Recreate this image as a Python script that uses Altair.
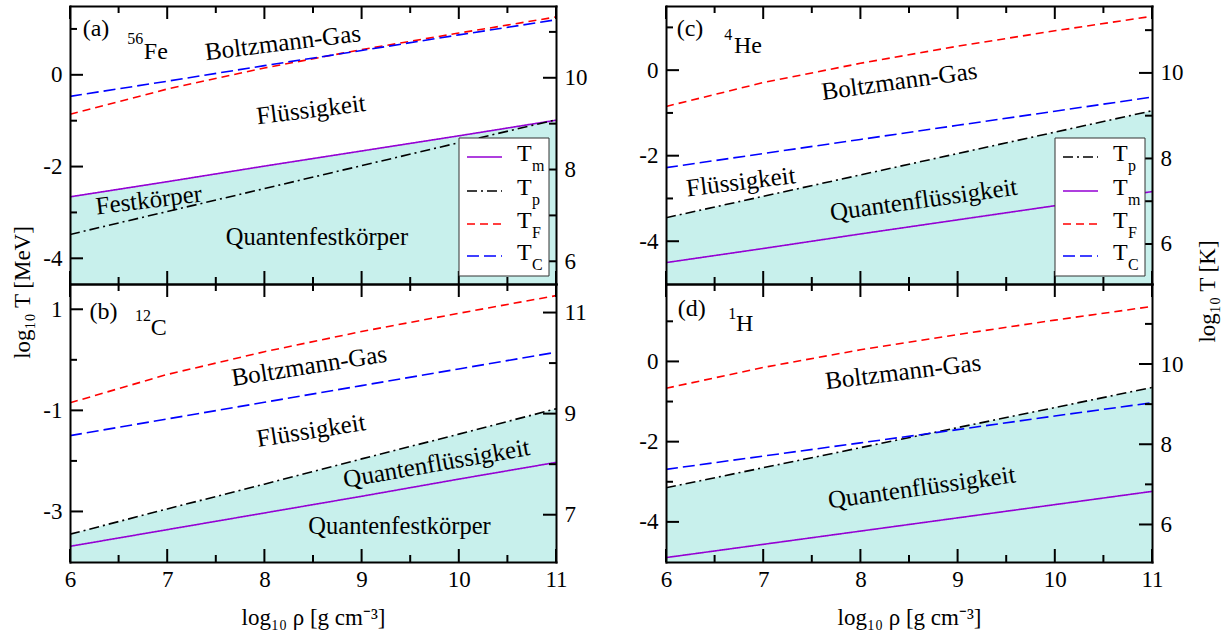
import altair as alt
import pandas as pd

SERIF = "Liberation Serif"
FILL = "#c8f0ec"
K_OFF = 10.0646  # log10(1 MeV / k_B in K)

RHO = [6, 7, 8, 9, 10, 11]
SERIES = ["Tm", "Tp", "TF", "TC"]
COLORS = ["#9400d3", "#000000", "#ff0000", "#0000ff"]
DASHES = [[1, 0], [10, 4, 2, 4], [8, 5], [12, 5]]
SUBS = {"Tm": "m", "Tp": "p", "TF": "F", "TC": "C"}

# (a) 56Fe
FE_TM = [-2.66, -2.33, -1.99, -1.66, -1.33, -0.99]
FE_TP = [-3.48, -2.98, -2.48, -1.98, -1.48, -0.98]
FE_TF = [-0.86, -0.31, 0.15, 0.55, 0.91, 1.26]
FE_TC = [-0.47, -0.14, 0.20, 0.53, 0.87, 1.20]
# (b) 12C
C_TM = [-3.69, -3.36, -3.03, -2.70, -2.36, -2.03]
C_TP = [-3.45, -2.95, -2.46, -1.96, -1.47, -0.97]
C_TF = [-0.85, -0.29, 0.16, 0.56, 0.92, 1.27]
C_TC = [-1.50, -1.17, -0.84, -0.51, -0.18, 0.15]
# (c) 4He
HE_TM = [-4.50, -4.17, -3.83, -3.50, -3.17, -2.84]
HE_TP = [-3.45, -2.95, -2.45, -1.95, -1.45, -0.95]
HE_TF = [-0.85, -0.29, 0.16, 0.56, 0.92, 1.26]
HE_TC = [-2.28, -1.95, -1.62, -1.29, -0.96, -0.63]
# (d) 1H
H_TM = [-4.89, -4.56, -4.23, -3.90, -3.57, -3.24]
H_TP = [-3.15, -2.65, -2.15, -1.65, -1.15, -0.65]
H_TF = [-0.67, -0.15, 0.29, 0.67, 1.03, 1.37]
H_TC = [-2.69, -2.36, -2.03, -1.70, -1.36, -1.03]

X_MAJOR = [6, 7, 8, 9, 10, 11]
X_MINOR = [6.5, 7.5, 8.5, 9.5, 10.5]

X_TITLE = "log\u2081\u2080 \u03c1 [g cm\u207b\u00b3]"
Y_TITLE_L = "log\u2081\u2080 T [MeV]"
Y_TITLE_R = "log\u2081\u2080 T [K]"

PANELS = {
    "a": dict(Tm=FE_TM, Tp=FE_TP, TF=FE_TF, TC=FE_TC, fill="Tm", ydom=[-4.56, 1.5],
              lmaj=[-4, -2, 0], lmin=[-3, -1, 1], rmaj=[6, 8, 10], rmin=[7, 9, 11],
              xlabels=False, legend=["Tm", "Tp", "TF", "TC"],
              notes=[("(a)", 6.13, 1.0, 24, 0, "left"), ("56", 6.59, 0.78, 16, 0, "left"),
                     ("Fe", 6.76, 0.50, 24, 0, "left"),
                     ("Boltzmann-Gas", 8.19, 0.70, 25, 353, "center"),
                     ("Flüssigkeit", 8.48, -0.76, 25, 353, "center"),
                     ("Festkörper", 6.81, -2.73, 25, 353, "center"),
                     ("Quantenfestkörper", 8.54, -3.56, 24.5, 0, "center")]),
    "b": dict(Tm=C_TM, Tp=C_TP, TF=C_TF, TC=C_TC, fill="Tp", ydom=[-4.0, 1.5],
              lmaj=[-3, -1, 1], lmin=[-2, 0], rmaj=[7, 9, 11], rmin=[8, 10],
              xlabels=True, legend=None,
              notes=[("(b)", 6.2, 0.95, 24, 0, "left"), ("12", 6.67, 0.87, 16, 0, "left"),
                     ("C", 6.83, 0.63, 24, 0, "left"),
                     ("Boltzmann-Gas", 8.46, -0.12, 25, 351, "center"),
                     ("Flüssigkeit", 8.48, -1.40, 25, 351, "center"),
                     ("Quantenflüssigkeit", 9.77, -2.05, 25, 350, "center"),
                     ("Quantenfestkörper", 9.39, -3.31, 24.5, 0, "center")]),
    "c": dict(Tm=HE_TM, Tp=HE_TP, TF=HE_TF, TC=HE_TC, fill="Tp", ydom=[-5.0, 1.5],
              lmaj=[-4, -2, 0], lmin=[-3, -1, 1], rmaj=[6, 8, 10], rmin=[7, 9, 11],
              xlabels=False, legend=["Tp", "Tm", "TF", "TC"],
              notes=[("(c)", 6.11, 0.97, 24, 0, "left"), ("4", 6.60, 0.83, 16, 0, "left"),
                     ("He", 6.70, 0.57, 24, 0, "left"),
                     ("Boltzmann-Gas", 8.40, -0.26, 25, 352, "center"),
                     ("Flüssigkeit", 6.77, -2.61, 25, 353, "center"),
                     ("Quantenflüssigkeit", 8.65, -3.03, 25, 352, "center")]),
    "d": dict(Tm=H_TM, Tp=H_TP, TF=H_TF, TC=H_TC, fill="Tp", ydom=[-5.0, 1.93],
              lmaj=[-4, -2, 0], lmin=[-3, -1, 1], rmaj=[6, 8, 10], rmin=[7, 9, 11],
              xlabels=True, legend=None,
              notes=[("(d)", 6.12, 1.31, 24, 0, "left"), ("1", 6.64, 1.18, 16, 0, "left"),
                     ("H", 6.72, 0.94, 24, 0, "left"),
                     ("Boltzmann-Gas", 8.44, -0.26, 25, 353, "center"),
                     ("Quantenflüssigkeit", 8.63, -3.14, 25, 352, "center")]),
}

W, H = 486, 278
MAJ, MIN = 13, 7
LEFT_LBL = "datum.value < 0 ? '-' + abs(datum.value) : '' + datum.value"
RIGHT_LBL = "'' + round(datum.value + %s)" % K_OFF
X0, X1 = 6, 11


def panel(key):
    p = PANELS[key]
    y0, y1 = p["ydom"]
    xs = alt.Scale(domain=[X0, X1], nice=False, zero=False)
    ys = alt.Scale(domain=[y0, y1], nice=False, zero=False)
    cs = alt.Scale(domain=SERIES, range=COLORS)
    ds = alt.Scale(domain=SERIES, range=DASHES)
    rows = [{"rho": x, "T": v, "series": s} for s in SERIES for x, v in zip(RHO, p[s])]
    df = pd.DataFrame(rows)
    X = lambda ax=None: alt.X("rho:Q", scale=xs, axis=ax)
    Y = lambda ax=None: alt.Y("T:Q", scale=ys, axis=ax)

    layers = []
    fill_df = pd.DataFrame({"rho": RHO, "T": p[p["fill"]]})
    layers.append(alt.Chart(fill_df).mark_area(color=FILL, clip=True).encode(
        x=X(), y=Y(), y2=alt.datum(y0)))
    layers.append(alt.Chart(df).mark_line(strokeWidth=1.6, clip=True).encode(
        x=X(), y=Y(),
        color=alt.Color("series:N", scale=cs, legend=None),
        strokeDash=alt.StrokeDash("series:N", scale=ds, legend=None)))

    # inward tick marks: tick values through the scales, tick length converted to data units
    dy = (y1 - y0) / H
    dx = (X1 - X0) / W
    rmaj = [k - K_OFF for k in p["rmaj"]]
    rmin = [k - K_OFF for k in p["rmin"]]
    trows = []
    for vals, ln in ((X_MAJOR, MAJ), (X_MINOR, MIN)):
        for v in vals:
            trows.append({"xa": v, "xb": v, "ya": y0, "yb": y0 + ln * dy})
            trows.append({"xa": v, "xb": v, "ya": y1, "yb": y1 - ln * dy})
    for vals, ln in ((p["lmaj"], MAJ), (p["lmin"], MIN)):
        for v in vals:
            trows.append({"xa": X0, "xb": X0 + ln * dx, "ya": v, "yb": v})
    for vals, ln in ((rmaj, MAJ), (rmin, MIN)):
        for v in vals:
            trows.append({"xa": X1 - ln * dx, "xb": X1, "ya": v, "yb": v})
    layers.append(alt.Chart(pd.DataFrame(trows)).mark_rule(color="black", strokeWidth=2).encode(
        x=alt.X("xa:Q", scale=xs, axis=None), x2="xb:Q",
        y=alt.Y("ya:Q", scale=ys, axis=None), y2="yb:Q"))

    for txt, x, y, fs, ang, al in p["notes"]:
        layers.append(alt.Chart(pd.DataFrame({"rho": [x], "T": [y], "label": [txt]})).mark_text(
            font=SERIF, fontSize=fs, angle=ang, align=al, baseline="middle", color="black").encode(
            x=X(), y=Y(), text="label:N"))
    if p["legend"]:
        one = pd.DataFrame({"k": [0]})
        layers.append(alt.Chart(one).mark_rect(fill="white", stroke="#333333", strokeWidth=1).encode(
            x=alt.value(389), x2=alt.value(479), y=alt.value(132), y2=alt.value(270)))
        for s, yy in zip(p["legend"], [151, 185, 218, 250]):
            layers.append(alt.Chart(pd.DataFrame({"series": [s]})).mark_rule(strokeWidth=1.6).encode(
                x=alt.value(397), x2=alt.value(432), y=alt.value(yy),
                color=alt.Color("series:N", scale=cs, legend=None),
                strokeDash=alt.StrokeDash("series:N", scale=ds, legend=None)))
            layers.append(alt.Chart(one).mark_text(font=SERIF, fontSize=24, align="left",
                                                   baseline="middle", color="black").encode(
                x=alt.value(447), y=alt.value(yy - 3), text=alt.value("T")))
            layers.append(alt.Chart(one).mark_text(font=SERIF, fontSize=16, align="left",
                                                   baseline="middle", color="black").encode(
                x=alt.value(462), y=alt.value(yy + 9), text=alt.value(SUBS[s])))

    ghost = alt.Chart(df).mark_point(opacity=0, size=1)
    frame = dict(grid=False, zindex=1, ticks=False, domain=True, domainWidth=2, domainCap="square",
                 domainColor="black")

    if p["xlabels"]:
        xax = alt.Axis(orient="bottom", values=X_MAJOR, labelPadding=6, labelFlush=False,
                       labelOverlap=False, title=X_TITLE, titleX=W / 2, titleY=55,
                       titleBaseline="middle", titleAlign="center", **frame)
    else:
        xax = alt.Axis(orient="bottom", values=X_MAJOR, labels=False, title=None, **frame)
    if key == "b":
        ylax = alt.Axis(orient="left", values=p["lmaj"], labelPadding=8, labelExpr=LEFT_LBL,
                        title=Y_TITLE_L, titleAngle=270, titleX=-48, titleY=8, titleAlign="center",
                        titleBaseline="middle", **frame)
    else:
        ylax = alt.Axis(orient="left", values=p["lmaj"], labelPadding=8, labelExpr=LEFT_LBL,
                        title=None, **frame)
    layers.append(ghost.encode(x=X(xax), y=Y(ylax)))

    xtop = alt.Axis(orient="top", values=X_MAJOR, labels=False, title=None, **frame)
    if key == "d":
        yrax = alt.Axis(orient="right", values=rmaj, labelPadding=8, labelExpr=RIGHT_LBL,
                        title=Y_TITLE_R, titleAngle=270, titleX=55, titleY=7, titleAlign="center",
                        titleBaseline="middle", **frame)
    else:
        yrax = alt.Axis(orient="right", values=rmaj, labelPadding=8, labelExpr=RIGHT_LBL,
                        title=None, **frame)
    layers.append(ghost.encode(x=X(xtop), y=Y(yrax)))

    return alt.layer(*layers).resolve_axis(x="independent", y="independent").properties(
        width=W, height=H)


chart = alt.concat(panel("a"), panel("c"), panel("b"), panel("d"), columns=2,
                   spacing={"row": 0, "column": 110}, bounds="flush").properties(
    padding={"left": 10, "top": 5, "right": 5, "bottom": 5}
).configure_view(stroke=None).configure_axis(
    labelFont=SERIF, labelFontSize=23, labelColor="black", titleFont=SERIF, titleFontSize=23,
    titleFontWeight="normal", titleColor="black", domainColor="black", tickColor="black"
)

chart.save("out.html", embed_options={"renderer": "svg", "actions": False})
